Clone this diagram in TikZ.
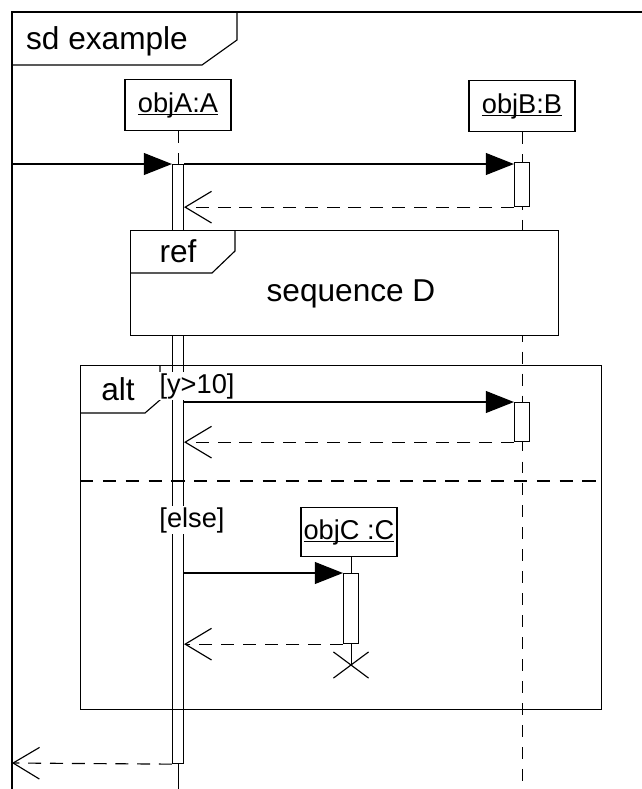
\documentclass[tikz,border=0pt]{standalone}
\usepackage{fontspec}
\setmainfont{Liberation Sans}
\usetikzlibrary{arrows.meta,shapes.misc,backgrounds}
\newcommand\objname[1]{\setbox0\hbox{#1}\rlap{\rule[-1.6pt]{\wd0}{0.6pt}}\box0}

\begin{document}
\begin{tikzpicture}[x=0.02cm, y=-0.02cm, line width=0.65pt,
    big/.style={font=\fontsize{18}{21}\selectfont},
    small/.style={font=\fontsize{15.5}{18}\selectfont},
    obj/.style={draw, small, minimum height=51\unitpx, inner sep=0pt},
    act/.style={draw, fill=white, minimum width=15\unitpx, inner sep=0pt, anchor=north},
    frm/.style={draw, inner sep=0pt, anchor=north west},
    life/.style={dash pattern=on 6.8pt off 5.7pt},
    sepline/.style={dash pattern=on 7.5pt off 5.5pt},
    call/.style={-{Triangle[length=16pt,width=12.5pt]}},
    reply/.style={-{Straight Barb[length=15pt,width=18pt]}, dash pattern=on 7.4pt off 5pt},
    guard/.style={small, fill=white, inner sep=1pt}]
   \newdimen\unitpx
   \unitpx=0.02cm
   \useasboundingbox (0,0) rectangle (642,789);
   \coordinate (bottom) at (0,789);
   \coordinate (gateIn) at (12,164);
   \coordinate (gateOut) at (12,763);

   % sd frame
   \draw (12,789) |- (642,12);
   \draw (12,65) -- (202,65) -- (237,40) -- (237,12);
   \node[big] (sd) at (107,41) {sd example};

   \node[obj, minimum width=106\unitpx] (objA) at (178,105) {\objname{objA:A}};
   \node[obj, minimum width=106\unitpx] (objB) at (522,106) {\objname{objB:B}};
   \node[obj, minimum width=96\unitpx, minimum height=49\unitpx] (objC) at (349,532) {\objname{objC :C}};

   \node[act, minimum width=11\unitpx, minimum height=599\unitpx] (actA) at (178,164) {};

   % ref
   \node[frm, fill=white, minimum width=428\unitpx, minimum height=105\unitpx] (refD) at (130,230) {};
   \draw (refD.north west) ++(0,43) -- ++(82,0) -- ++(23,-22) -- ++(0,-21);
   \node[big] (refL) at (178,251) {ref};
   \node[big] (seqD) at (351,294) {sequence D};

   % alt
   \node[frm, minimum width=521\unitpx, minimum height=344\unitpx] (altF) at (80,365) {};
   \draw (altF.north west) ++(0,48) -- ++(65,0) -- ++(15,-13) -- ++(0,-35);
   \node[big] (altL) at (118,389) {alt};
   \coordinate (sep) at (80,481);
   \draw[sepline] (sep) -- (sep -| altF.east);

   \foreach \n/\x/\y/\h in {actB1/522/162/44, actB2/522/402/39, actC/351/573/70}
     \node[act, minimum height=\h\unitpx] (\n) at (\x,\y) {};
   \node[draw, cross out, minimum width=34\unitpx, minimum height=25\unitpx, inner sep=0pt] (xC) at (351,665) {};

   \node[guard] (g1) at (197,386) {[y>10]};
   \node[guard] (g2) at (192,520) {[else]};

   \begin{scope}[on background layer]
     \draw[life] (objA.south) -- (actA.north);
     \draw (actA.south) -- (actA.south |- bottom);
     \draw[life] (objB.south) -- (objB.south |- bottom);
     \draw (objC.south -| actC.north) -- (actC.north);
     \draw (actC.south) -- (xC.center);
   \end{scope}

   \draw[call] (gateIn) -- (actA.north west);
   \draw[call] (actA.north east) -- (actA.north east -| actB1.west);
   \foreach \n in {actB2,actC}
     \draw[call] (actA.east |- \n.north) -- (\n.north west);
   \foreach \n in {actB1,actB2,actC}
     \draw[reply] (\n.south west) -- (\n.south west -| actA.east);
   \draw[reply] (actA.south west) -- (gateOut);
\end{tikzpicture}
\end{document}
